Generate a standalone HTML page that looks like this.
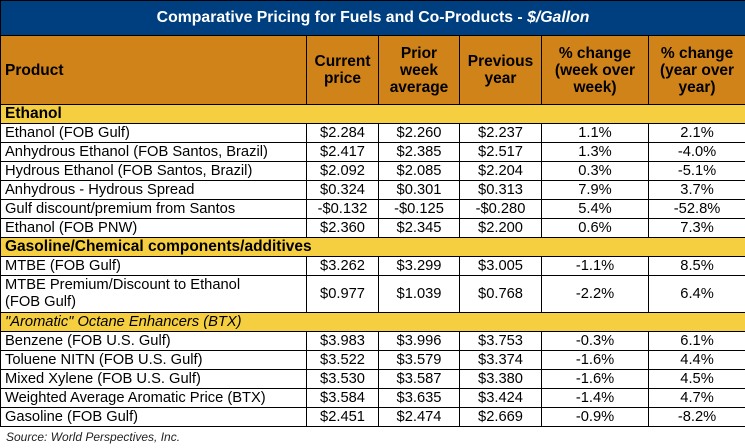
<!DOCTYPE html>
<html><head><style>
body{margin:0;width:745px;height:448px;background:#fff;font-family:"Liberation Sans",Arial,sans-serif;overflow:hidden}
table{position:absolute;left:0;top:0;border-collapse:collapse;table-layout:fixed;width:745px}
td{border:1px solid #000;padding:0 4px;font-size:14.7px;color:#000;height:18px;line-height:16px;white-space:nowrap}
td.c{text-align:center}
.t td{background:#003f7f;color:#fff;font-weight:bold;text-align:center;height:34px;font-size:15.8px}
.h td{background:#d08318;font-weight:bold;height:68px;font-size:15.5px;line-height:17px;text-align:center}
.b td{background:#f6cf40;font-weight:bold;font-size:15.5px}
.src{position:absolute;left:6px;top:430px;font-size:12px;font-style:italic;color:#222}
</style></head><body>
<table>
<colgroup><col style="width:306px"><col style="width:72px"><col style="width:81px"><col style="width:82px"><col style="width:107px"><col style="width:97px"></colgroup>
<tr class="t"><td colspan="6">Comparative Pricing for Fuels and Co-Products - <i>$/Gallon</i></td></tr>
<tr class="h"><td style="text-align:left">Product</td><td>Current<br>price</td><td>Prior<br>week<br>average</td><td>Previous<br>year</td><td>% change<br>(week over<br>week)</td><td>% change<br>(year over<br>year)</td></tr>
<tr class="b"><td colspan="6">Ethanol</td></tr>
<tr><td>Ethanol (FOB Gulf)</td><td class="c">$2.284</td><td class="c">$2.260</td><td class="c">$2.237</td><td class="c">1.1%</td><td class="c">2.1%</td></tr>
<tr><td>Anhydrous Ethanol (FOB Santos, Brazil)</td><td class="c">$2.417</td><td class="c">$2.385</td><td class="c">$2.517</td><td class="c">1.3%</td><td class="c">-4.0%</td></tr>
<tr><td>Hydrous Ethanol (FOB Santos, Brazil)</td><td class="c">$2.092</td><td class="c">$2.085</td><td class="c">$2.204</td><td class="c">0.3%</td><td class="c">-5.1%</td></tr>
<tr><td>Anhydrous - Hydrous Spread</td><td class="c">$0.324</td><td class="c">$0.301</td><td class="c">$0.313</td><td class="c">7.9%</td><td class="c">3.7%</td></tr>
<tr><td>Gulf discount/premium from Santos</td><td class="c">-$0.132</td><td class="c">-$0.125</td><td class="c">-$0.280</td><td class="c">5.4%</td><td class="c">-52.8%</td></tr>
<tr><td>Ethanol (FOB PNW)</td><td class="c">$2.360</td><td class="c">$2.345</td><td class="c">$2.200</td><td class="c">0.6%</td><td class="c">7.3%</td></tr>
<tr class="b"><td colspan="6">Gasoline/Chemical components/additives</td></tr>
<tr><td>MTBE (FOB Gulf)</td><td class="c">$3.262</td><td class="c">$3.299</td><td class="c">$3.005</td><td class="c">-1.1%</td><td class="c">8.5%</td></tr>
<tr><td style="height:36px;line-height:17px">MTBE Premium/Discount to Ethanol<br>(FOB Gulf)</td><td class="c">$0.977</td><td class="c">$1.039</td><td class="c">$0.768</td><td class="c">-2.2%</td><td class="c">6.4%</td></tr>
<tr class="b"><td colspan="6" style="font-weight:normal;font-style:italic;font-size:14.7px">"Aromatic" Octane Enhancers (BTX)</td></tr>
<tr><td>Benzene (FOB U.S. Gulf)</td><td class="c">$3.983</td><td class="c">$3.996</td><td class="c">$3.753</td><td class="c">-0.3%</td><td class="c">6.1%</td></tr>
<tr><td>Toluene NITN (FOB U.S. Gulf)</td><td class="c">$3.522</td><td class="c">$3.579</td><td class="c">$3.374</td><td class="c">-1.6%</td><td class="c">4.4%</td></tr>
<tr><td>Mixed Xylene (FOB U.S. Gulf)</td><td class="c">$3.530</td><td class="c">$3.587</td><td class="c">$3.380</td><td class="c">-1.6%</td><td class="c">4.5%</td></tr>
<tr><td>Weighted Average Aromatic Price (BTX)</td><td class="c">$3.584</td><td class="c">$3.635</td><td class="c">$3.424</td><td class="c">-1.4%</td><td class="c">4.7%</td></tr>
<tr><td>Gasoline (FOB Gulf)</td><td class="c">$2.451</td><td class="c">$2.474</td><td class="c">$2.669</td><td class="c">-0.9%</td><td class="c">-8.2%</td></tr>
</table>
<div class="src">Source: World Perspectives, Inc.</div>
</body></html>
